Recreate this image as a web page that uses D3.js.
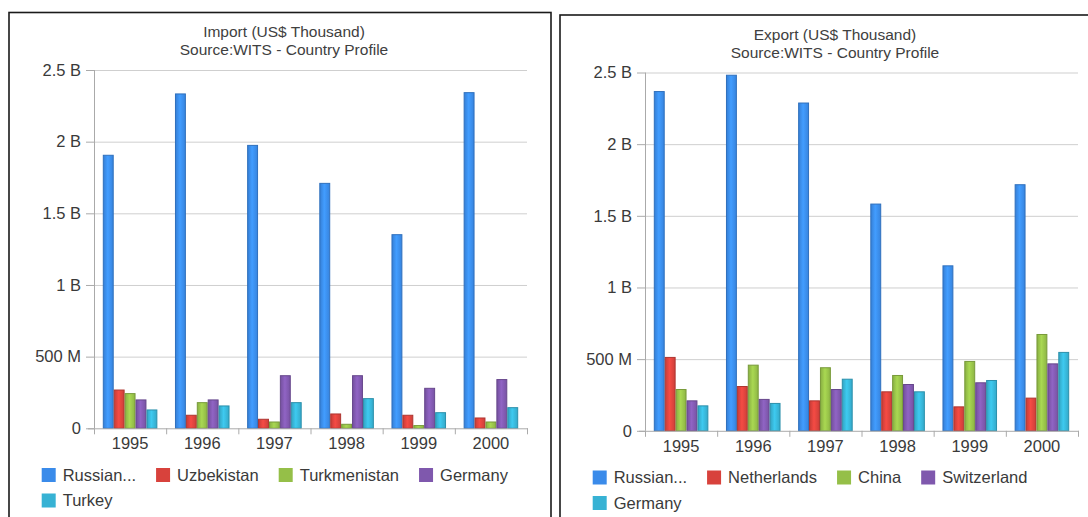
<!DOCTYPE html>
<html><head><meta charset="utf-8">
<script src="https://cdn.jsdelivr.net/npm/d3@7"></script>
<style>
html,body{margin:0;padding:0;background:#fff;overflow:hidden;}
svg{display:block;font-family:"Liberation Sans",Arial,sans-serif;}
</style></head><body>
<svg id="c" width="1088" height="517"></svg>
<script>
// ---- data (values in US$ millions) ----
const years = ["1995","1996","1997","1998","1999","2000"];
const yTickValues = [0,500,1000,1500,2000,2500];
const yTickLabels = ["0","500 M","1 B","1.5 B","2 B","2.5 B"];
const importTitle = ["Import (US$ Thousand)","Source:WITS - Country Profile"];
const exportTitle = ["Export (US$ Thousand)","Source:WITS - Country Profile"];
const importPartners = ["Russian...","Uzbekistan","Turkmenistan","Germany","Turkey"];
const exportPartners = ["Russian...","Netherlands","China","Switzerland","Germany"];
const importRussia = [1905,2333,1974,1709,1351,2342];
const importUzbekistan = [267,91,63,100,91,72];
const importTurkmenistan = [242,179,44,28,19,44];
const importGermany = [198,198,367,367,279,340];
const importTurkey = [128,156,179,207,109,144];
const exportRussia = [2367,2481,2287,1582,1151,1717];
const exportNetherlands = [512,309,209,272,167,228];
const exportChina = [288,458,440,386,484,672];
const exportSwitzerland = [209,219,288,323,335,467];
const exportGermany = [174,191,360,272,351,547];
const seriesColors = ["#3a8bea","#d8423c","#95bf48","#7f58ad","#37b2d4"];

const svg = d3.select("#c");
const defs = svg.append("defs");
seriesColors.forEach((c,i)=>{
  const g = defs.append("linearGradient").attr("id","grad"+i).attr("x1","0%").attr("x2","100%").attr("y1","0%").attr("y2","0%");
  g.append("stop").attr("offset","0%").attr("stop-color", d3.color(c).darker(0.25));
  g.append("stop").attr("offset","45%").attr("stop-color", d3.color(c).brighter(0.35));
  g.append("stop").attr("offset","100%").attr("stop-color", d3.color(c).darker(0.15));
});

function panel(ox, oy, titles, partners, series){
  const g = svg.append("g").attr("transform",`translate(${ox},${oy})`);
  const W = 542;
  g.append("rect").attr("x",0).attr("y",0).attr("width",W).attr("height",600)
    .attr("fill","#fff").attr("stroke","#1a1a1a").attr("stroke-width",1.6);
  const plotL=85, plotR=518, plotT=57.5, plotB=415.8;
  const y = d3.scaleLinear().domain([0,2500]).range([plotB,plotT]);
  const x0 = d3.scaleBand().domain(years).range([plotL,plotR]).paddingInner(0).paddingOuter(0);
  const bw = x0.bandwidth();
  const x1 = d3.scaleBand().domain(d3.range(series.length)).range([bw*0.122, bw*0.878]).padding(0);

  // title
  g.selectAll("text.title").data(titles).join("text").attr("class","title")
    .attr("x", 275).attr("y",(d,i)=>24.5+i*18).attr("text-anchor","middle")
    .attr("font-size",15.5).attr("fill","#404040").text(d=>d);

  // gridlines
  g.append("g").selectAll("line").data(yTickValues.slice(1)).join("line")
    .attr("x1",plotL).attr("x2",plotR).attr("y1",d=>y(d)+0.5).attr("y2",d=>y(d)+0.5)
    .attr("stroke","#cfcfcf").attr("stroke-width",1);

  // y axis
  const yAxis = d3.axisLeft(y).tickValues(yTickValues).tickFormat((d,i)=>yTickLabels[i]).tickSize(8).tickPadding(5);
  const ya = g.append("g").attr("transform",`translate(${plotL},0)`).call(yAxis);
  ya.select(".domain").attr("stroke","#aaaaaa").attr("d",`M0.5,${plotT}V${plotB}`);
  ya.selectAll(".tick line").attr("stroke","#aaaaaa");
  ya.selectAll(".tick text").attr("font-size",16.5).attr("fill","#3a3a3a").attr("font-family","Liberation Sans, Arial, sans-serif");

  // bars
  const groups = g.append("g").selectAll("g").data(years).join("g")
    .attr("transform",d=>`translate(${x0(d)},0)`);
  groups.selectAll("rect").data((d,j)=>series.map((s,i)=>({i, v:s[j]}))).join("rect")
    .attr("x",d=>x1(d.i)+0.5).attr("width",x1.bandwidth()-1)
    .attr("y",d=>y(d.v)).attr("height",d=>plotB-y(d.v))
    .attr("fill",d=>`url(#grad${d.i})`)
    .attr("stroke",d=>d3.color(seriesColors[d.i]).darker(0.6)).attr("stroke-width",1);

  // x axis
  const xAxis = d3.axisBottom(x0).tickSize(0).tickPadding(9);
  const xa = g.append("g").attr("transform",`translate(0,${plotB})`).call(xAxis);
  xa.select(".domain").attr("stroke","#aaaaaa").attr("d",`M${plotL-6},0.5H${plotR+1}`);
  xa.selectAll(".tick text").attr("font-size",16.5).attr("fill","#3a3a3a").attr("font-family","Liberation Sans, Arial, sans-serif");
  g.append("g").selectAll("line").data(years.map(d=>x0(d)).concat([plotR])).join("line")
    .attr("x1",d=>d+0.5).attr("x2",d=>d+0.5).attr("y1",plotB).attr("y2",plotB+6)
    .attr("stroke","#aaaaaa");

  // legend (flow layout)
  const lg = g.append("g");
  let lx = 32.7, row = 0;
  const rowY = [462.5, 488];
  partners.forEach((p,i)=>{
    const it = lg.append("g");
    it.append("rect").attr("x",0).attr("y",-7).attr("width",14).attr("height",14)
      .attr("fill",seriesColors[i]);
    const t = it.append("text").attr("x",21).attr("y",0).attr("dy","0.35em")
      .attr("font-size",16.5).attr("fill","#3a3a3a").text(p);
    const w = 21 + t.node().getComputedTextLength();
    if (lx + w > 520) { row++; lx = 32.7; }
    it.attr("transform",`translate(${lx},${rowY[row]})`);
    lx += w + 20;
  });
}

panel(9, 12.5, importTitle, importPartners,
  [importRussia, importUzbekistan, importTurkmenistan, importGermany, importTurkey]);
panel(560, 15, exportTitle, exportPartners,
  [exportRussia, exportNetherlands, exportChina, exportSwitzerland, exportGermany]);
</script>
</body></html>
